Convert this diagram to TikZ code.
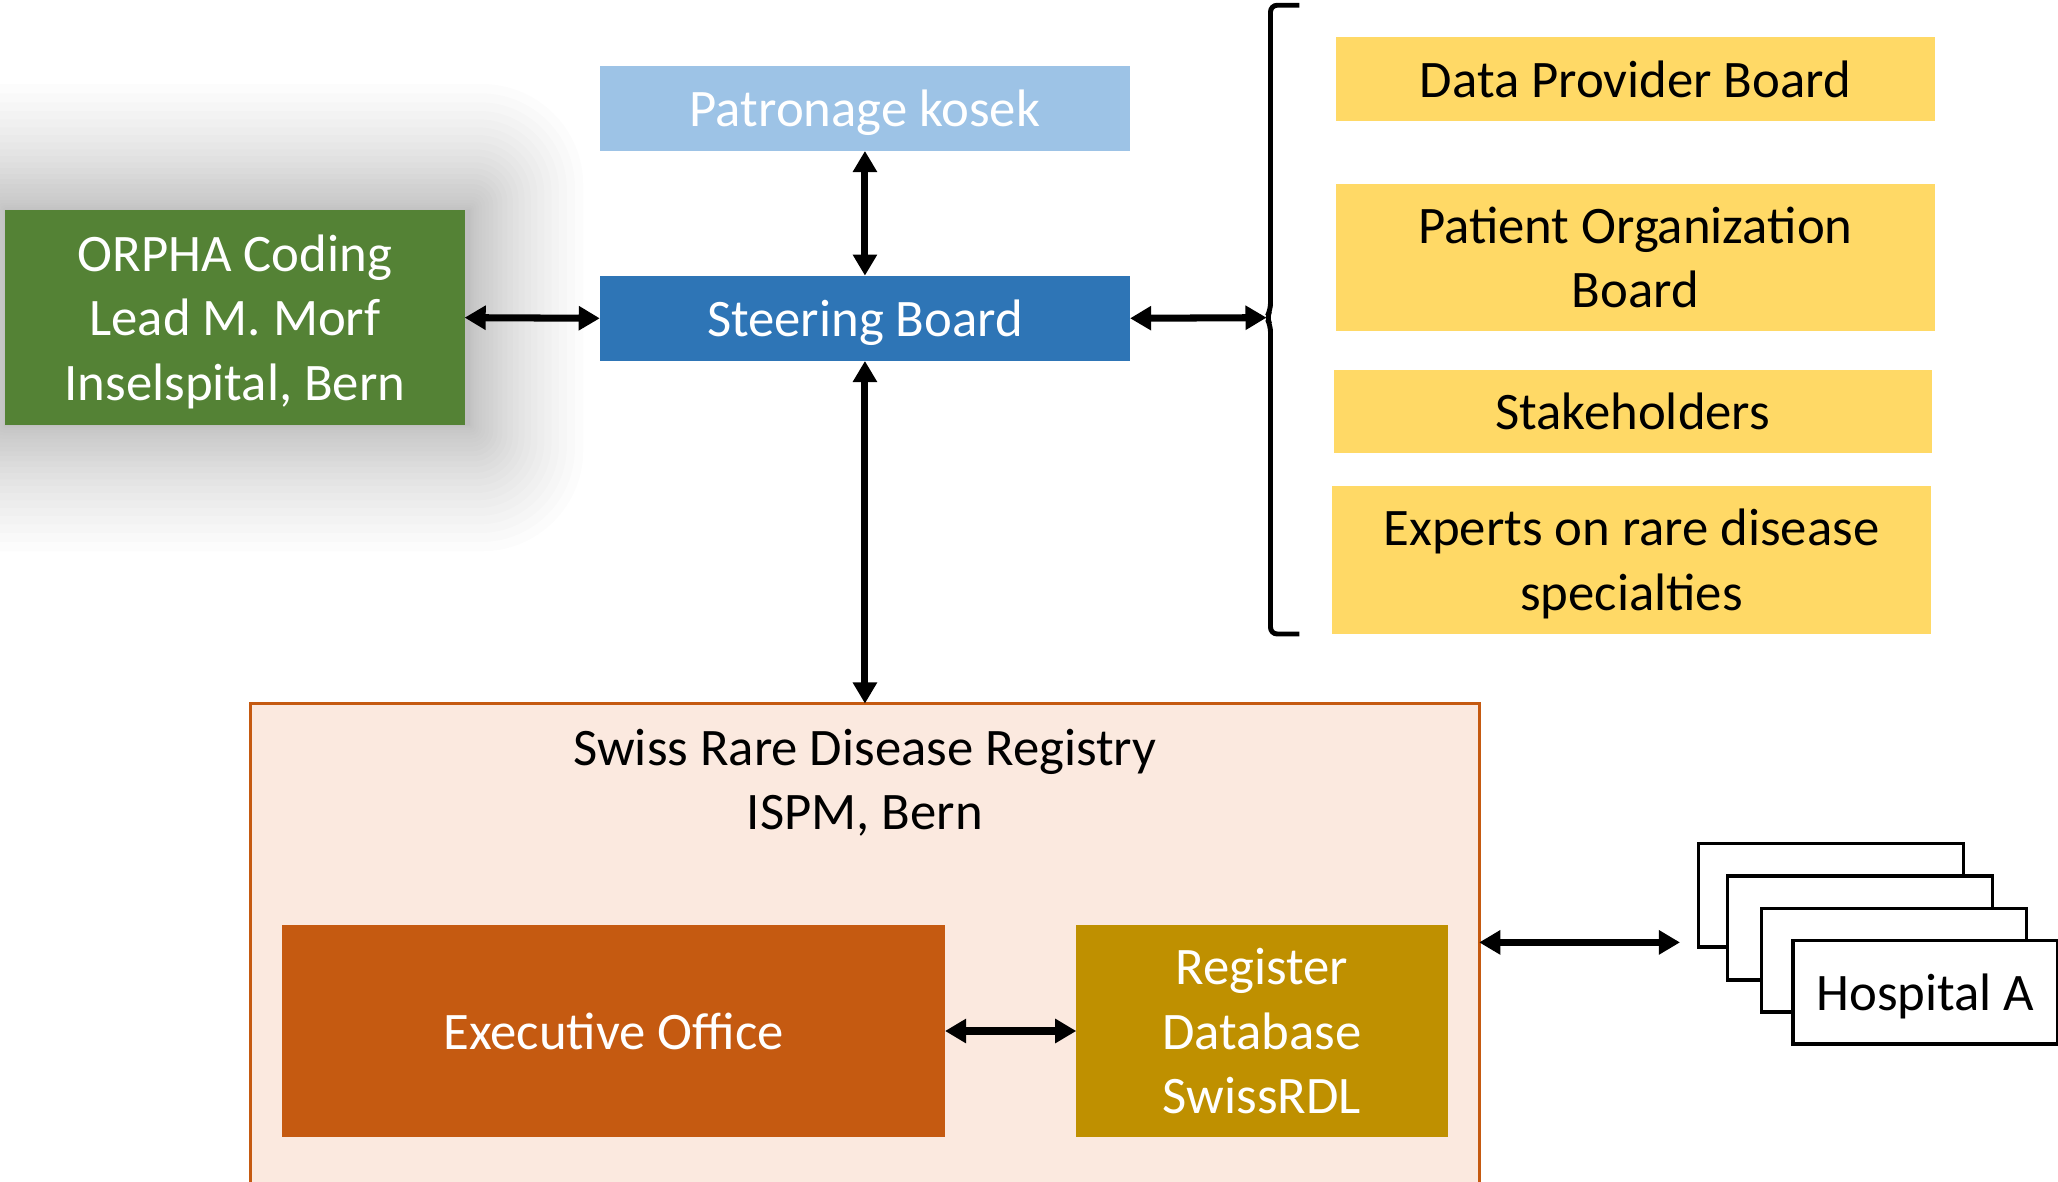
\documentclass[tikz,border=0pt]{standalone}
\usepackage{fontspec}
\setmainfont{Carlito}
\usetikzlibrary{arrows.meta}
\definecolor{cpatr}{HTML}{9DC3E6}
\definecolor{csteer}{HTML}{2E75B6}
\definecolor{corpha}{HTML}{548235}
\definecolor{cyell}{HTML}{FFD966}
\definecolor{cregfill}{HTML}{FBE9DF}
\definecolor{corange}{HTML}{C55A11}
\definecolor{cgold}{HTML}{BF9000}
\newcommand\upx{0.013125cm}
\tikzset{
  box/.style args={#1/#2}{rectangle, inner sep=0pt, outer sep=0pt, draw=none,
    minimum width=#1*\upx, minimum height=#2*\upx, align=center, text depth=0pt,
    font=\fontsize{15}{18.3}\selectfont},
  whitetext/.style={text=white},
  arr/.style={line width=2pt, {Triangle[length=6pt,width=6.6pt]}-{Triangle[length=6pt,width=6.6pt]}},
  hosp/.style={box=202/79, draw=black, line width=1pt, fill=white},
}
\begin{document}
\begin{tikzpicture}[x=\upx, y=-\upx]
\useasboundingbox (0,0) rectangle (1568,900);
% soft shadow around ORPHA box
\foreach \i in {0,...,24}{
  \pgfmathsetmacro\e{96*(\i/24)^1.8}
  \fill[black, fill opacity=0.0105, rounded corners=\e*0.8*\upx+0.1pt] (4-\e,160-\e) rectangle (354+\e*0.9+4,324+\e);
}
% top boxes
\node[box=404/65, fill=cpatr, whitetext] (patr) at (659,82.5) {Patronage kosek};
\node[box=404/65, fill=csteer, whitetext] (steer) at (659,242.5) {Steering Board};
\node[box=350/164, fill=corpha, whitetext] (orpha) at (179,242) {ORPHA Coding\\Lead M. Morf\\Inselspital, Bern};
% yellow boxes
\node[box=456/64, fill=cyell] (dpb) at (1246,60) {Data Provider Board};
\node[box=456/112, fill=cyell] (pob) at (1246,196) {Patient Organization\\Board};
\node[box=456/63, fill=cyell] (stake) at (1244,313.5) {Stakeholders};
\node[box=456/113, fill=cyell] (expt) at (1243,426.5) {Experts on rare disease\\specialties};
% brace
\coordinate (bmid) at (965,242);
\draw[line width=1.4pt, rounded corners=5*\upx] (990,4) -| (968,236) -- (bmid) -- (968,248) |- (990,483);
% registry
\node[box=936/375, fill=cregfill, draw=corange, line width=0.8pt] (reg) at (659,723.5) {};
\node[box=600/100] (regt) at (659,594) {Swiss Rare Disease Registry\\ISPM, Bern};
\node[box=505/161, fill=corange, whitetext] (exec) at (467.5,785.5) {Executive Office};
\node[box=283/161, fill=cgold, whitetext] (rdb) at (961.5,785.5) {Register\\Database\\SwissRDL};
% hospitals
\node[hosp] (h1) at (1395,682) {};
\node[hosp] (h2) at (1417,707) {};
\node[hosp] (h3) at (1443,731.5) {};
\node[hosp] (h4) at (1467,756) {Hospital A};
\coordinate (harr) at (1280,718);
% connectors
\draw[arr] (orpha.east) -- (steer.west);
\draw[arr] (patr.south) -- (steer.north);
\draw[arr] (steer.south) -- (reg.north);
\draw[arr] (steer.east) -- (bmid);
\draw[arr] (exec.east) -- (rdb.west);
\draw[arr] (reg.east |- harr) -- (harr);
\end{tikzpicture}
\end{document}
